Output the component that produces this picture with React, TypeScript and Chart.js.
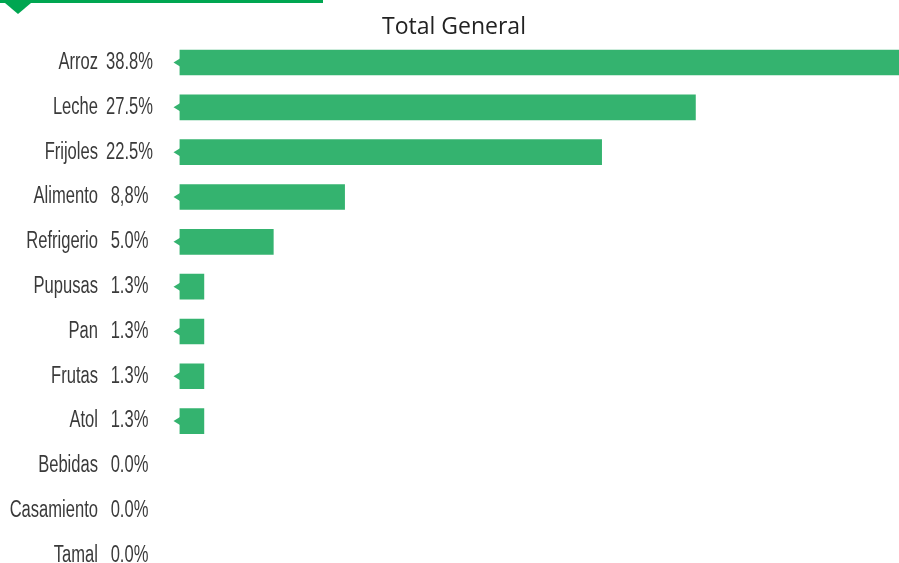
import React, { useEffect, useRef } from "react";
import { Chart, registerables } from "chart.js";

Chart.register(...registerables);

const categories = [
  "Arroz", "Leche", "Frijoles", "Alimento", "Refrigerio", "Pupusas",
  "Pan", "Frutas", "Atol", "Bebidas", "Casamiento", "Tamal",
];
const values = [38.8, 27.5, 22.5, 8.8, 5.0, 1.3, 1.3, 1.3, 1.3, 0, 0, 0];
const percentLabels = [
  "38.8%", "27.5%", "22.5%", "8,8%", "5.0%", "1.3%",
  "1.3%", "1.3%", "1.3%", "0.0%", "0.0%", "0.0%",
];
const chartTitle = "Total General";

const BAR_COLOR = "#34B36F";
const TOP_COLOR = "#00A651";
const TEXT_COLOR = "#3a3a3a";
const LABEL_FONT = "23px 'Liberation Sans', Arial, sans-serif";
const LABEL_SX = 0.72;

function drawCondensed(ctx: any, text: string, x: number, y: number, align: string) {
  ctx.save();
  ctx.translate(x, y);
  ctx.scale(LABEL_SX, 1);
  ctx.textAlign = align;
  ctx.textBaseline = "middle";
  ctx.fillText(text, 0, 0);
  ctx.restore();
}

const decorPlugin = {
  id: "decor",
  beforeDraw(chart: any) {
    const ctx = chart.ctx;
    ctx.save();
    ctx.fillStyle = TOP_COLOR;
    ctx.fillRect(0, 0, 323, 3);
    ctx.beginPath();
    ctx.moveTo(5, 3);
    ctx.lineTo(31, 3);
    ctx.lineTo(18, 14);
    ctx.closePath();
    ctx.fill();
    ctx.fillStyle = "#222222";
    ctx.font = "23px 'Open Sans', 'Noto Sans', sans-serif";
    ctx.textAlign = "center";
    ctx.textBaseline = "alphabetic";
    ctx.fillText(chartTitle, 454, 33.5);
    ctx.restore();
  },
  afterDatasetsDraw(chart: any) {
    const ctx = chart.ctx;
    const meta = chart.getDatasetMeta(0);
    ctx.save();
    ctx.fillStyle = BAR_COLOR;
    meta.data.forEach((bar: any, i: number) => {
      if (values[i] <= 0) return;
      const left = Math.min(bar.x, bar.base);
      const cy = bar.y;
      ctx.beginPath();
      ctx.moveTo(left + 0.5, cy - 4);
      ctx.lineTo(left + 0.5, cy + 4);
      ctx.lineTo(left - 6, cy);
      ctx.closePath();
      ctx.fill();
    });
    ctx.restore();
  },
  afterDraw(chart: any) {
    const ctx = chart.ctx;
    const yScale = chart.scales.y;
    ctx.save();
    ctx.fillStyle = TEXT_COLOR;
    ctx.font = LABEL_FONT;
    categories.forEach((c, i) => {
      const y = yScale.getPixelForValue(i);
      drawCondensed(ctx, c, 98, y, "right");
      drawCondensed(ctx, percentLabels[i], 129.5, y, "center");
    });
    ctx.restore();
  },
};

export default function App() {
  const ref = useRef<HTMLCanvasElement>(null);
  useEffect(() => {
    if (!ref.current) return;
    const chart = new Chart(ref.current, {
      type: "bar",
      data: {
        labels: categories,
        datasets: [
          {
            data: values,
            backgroundColor: values.map((v) => (v > 0 ? BAR_COLOR : "rgba(0,0,0,0)")),
            borderWidth: 0,
            barThickness: 25,
          },
        ],
      },
      options: {
        indexAxis: "y",
        animation: false,
        responsive: false,
        maintainAspectRatio: false,
        layout: { padding: { left: 0, right: 0, top: 40.1, bottom: 0 } },
        plugins: {
          legend: { display: false },
          tooltip: { enabled: false },
          title: { display: false },
        },
        scales: {
          x: {
            display: false,
            min: 0,
            max: 38.35,
          },
          y: {
            grid: { display: false, drawTicks: false },
            border: { display: false },
            ticks: { display: false, padding: 0 },
            afterFit(scale: any) {
              scale.width = 179.5;
            },
          },
        },
      },
      plugins: [decorPlugin],
    });
    return () => chart.destroy();
  }, []);
  return (
    <div style={{ position: "fixed", left: 0, top: 0, width: 899, height: 563, overflow: "hidden", background: "#fff" }}>
      <canvas ref={ref} width={899} height={578} style={{ display: "block" }} />
    </div>
  );
}
